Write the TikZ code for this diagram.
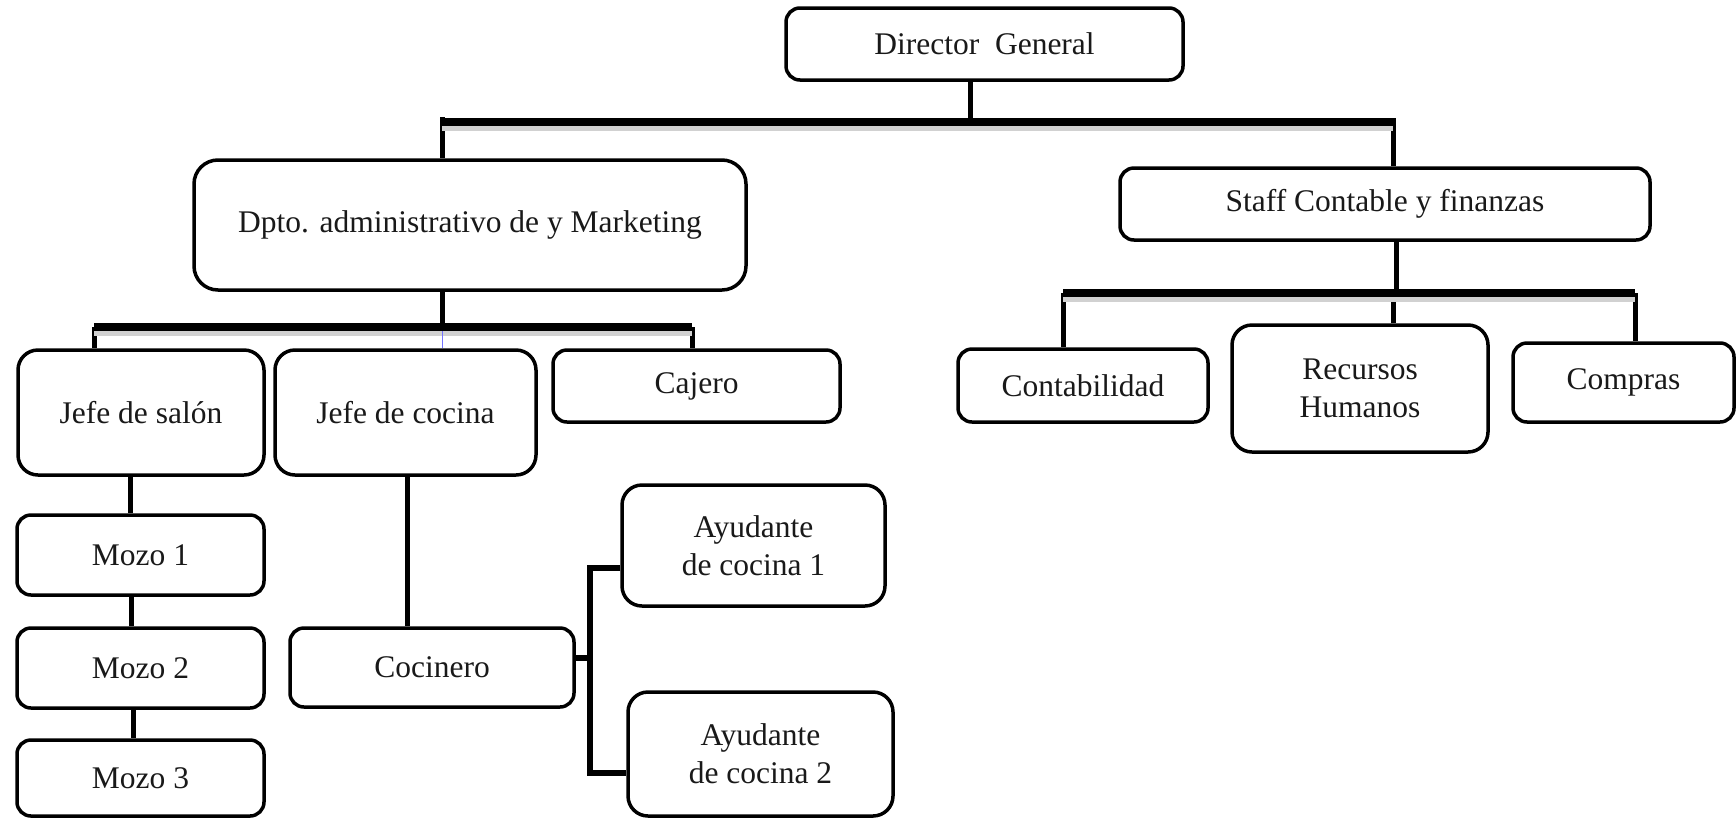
\documentclass[tikz,border=0pt]{standalone}
\usepackage{fontspec}
\setmainfont{Liberation Serif}
\tikzset{
  unit/.style={draw=black, line width=3.5pt, rounded corners=14pt, fill=white,
    align=center, inner sep=0pt, text=black!90,
    font=\fontsize{31.5}{38}\selectfont},
  bar/.style={line width=8pt, preaction={draw=black!18, line width=5pt, transform canvas={yshift=-6pt}}},
  link/.style={line width=5pt},
  bracket/.style={line width=6pt, line join=miter},
}
\begin{document}
\begin{tikzpicture}[x=1pt, y=-1pt]
\useasboundingbox (0,0) rectangle (1736,820);

% --- boxes ---
\node[unit, minimum width=397pt, minimum height=72pt] (dir) at (984.5,44) {Director\ \ General};
\node[unit, rounded corners=24pt, minimum width=552pt, minimum height=130pt] (dpto) at (470,225) {Dpto. administrativo de y Marketing};
\node[unit, minimum width=530pt, minimum height=72pt] (staff) at (1385,204) {Staff Contable y finanzas};

\node[unit, rounded corners=20pt, minimum width=246pt, minimum height=125pt] (salon) at (141,412.5) {Jefe de salón};
\node[unit, rounded corners=20pt, minimum width=261pt, minimum height=125pt] (cocina) at (405.5,412.5) {Jefe de cocina};
\node[unit, minimum width=287pt, minimum height=72pt] (cajero) at (696.5,386) {Cajero};

\node[unit, minimum width=250pt, minimum height=73pt] (conta) at (1083,385.5) {Contabilidad};
\node[unit, rounded corners=20pt, minimum width=256pt, minimum height=127pt] (rh) at (1360,388.5) {Recursos\\Humanos};
\node[unit, minimum width=221pt, minimum height=79pt] (compras) at (1623.5,382.5) {Compras};

\node[unit, minimum width=247pt, minimum height=80pt] (mozo1) at (140.5,555) {Mozo 1};
\node[unit, minimum width=247pt, minimum height=80pt] (mozo2) at (140.5,668) {Mozo 2};
\node[unit, minimum width=247pt, minimum height=76pt] (mozo3) at (140.5,778) {Mozo 3};

\node[unit, minimum width=284pt, minimum height=79pt] (cocinero) at (432,667.5) {Cocinero};
\node[unit, rounded corners=20pt, minimum width=263pt, minimum height=121pt] (ay1) at (753.5,545.5) {Ayudante\\de cocina 1};
\node[unit, rounded corners=20pt, minimum width=265pt, minimum height=124pt] (ay2) at (760.5,754) {Ayudante\\de cocina 2};

% --- junction points ---
\coordinate (h1) at (970,122);
\coordinate (h1l) at (442,122);
\coordinate (h1r) at (1393,122);
\coordinate (h2) at (1396,293);
\coordinate (h2l) at (1063,293);
\coordinate (h2m) at (1393,293);
\coordinate (h2r) at (1635,293);
\coordinate (h3) at (442,327);
\coordinate (h3l) at (94,327);
\coordinate (h3r) at (692,327);
\coordinate (m1) at (130,0);
\coordinate (m2) at (131,0);
\coordinate (m3) at (133,0);
\coordinate (ck) at (407,0);
\coordinate (k) at (590,658);
\coordinate (ka) at (590,568);
\coordinate (kb) at (590,773);

% --- top level ---
\draw[link] (h1 |- dir.south) -- (h1);
\draw[link] ([yshift=5pt]h1l) -- (h1l |- dpto.north);
\draw[link] ([yshift=4pt]h1r) -- (h1r |- staff.north);
\draw[bar] (h1l) -- (h1r);

% --- staff branch ---
\draw[link] (h2 |- staff.south) -- (h2);
\draw[link] (h2l) -- (h2l |- conta.north);
\draw[link] (h2m) -- (h2m |- rh.north);
\draw[link] (h2r) -- (h2r |- compras.north);
\draw[bar] (h2l) -- (h2r);

% --- department branch ---
\draw[link] (h3 |- dpto.south) -- (h3);
\draw[link] (h3l) -- (h3l |- salon.north);
\draw[link] (h3r) -- (h3r |- cajero.north);
\draw[bar] (h3l) -- (h3r);
\draw[blue!55, line width=1pt] ([yshift=-4pt]h3) -- (h3 |- cocina.north);

% --- dining room chain ---
\draw[link] (m1 |- salon.south) -- (m1 |- mozo1.north);
\draw[link] (m2 |- mozo1.south) -- (m2 |- mozo2.north);
\draw[link] (m3 |- mozo2.south) -- (m3 |- mozo3.north);

% --- kitchen chain ---
\draw[link] (ck |- cocina.south) -- (ck |- cocinero.north);
\draw[bracket] (k -| cocinero.east) -- (k);
\draw[bracket] (ka -| ay1.west) -- (ka) -- (kb) -- (kb -| ay2.west);
\end{tikzpicture}
\end{document}
